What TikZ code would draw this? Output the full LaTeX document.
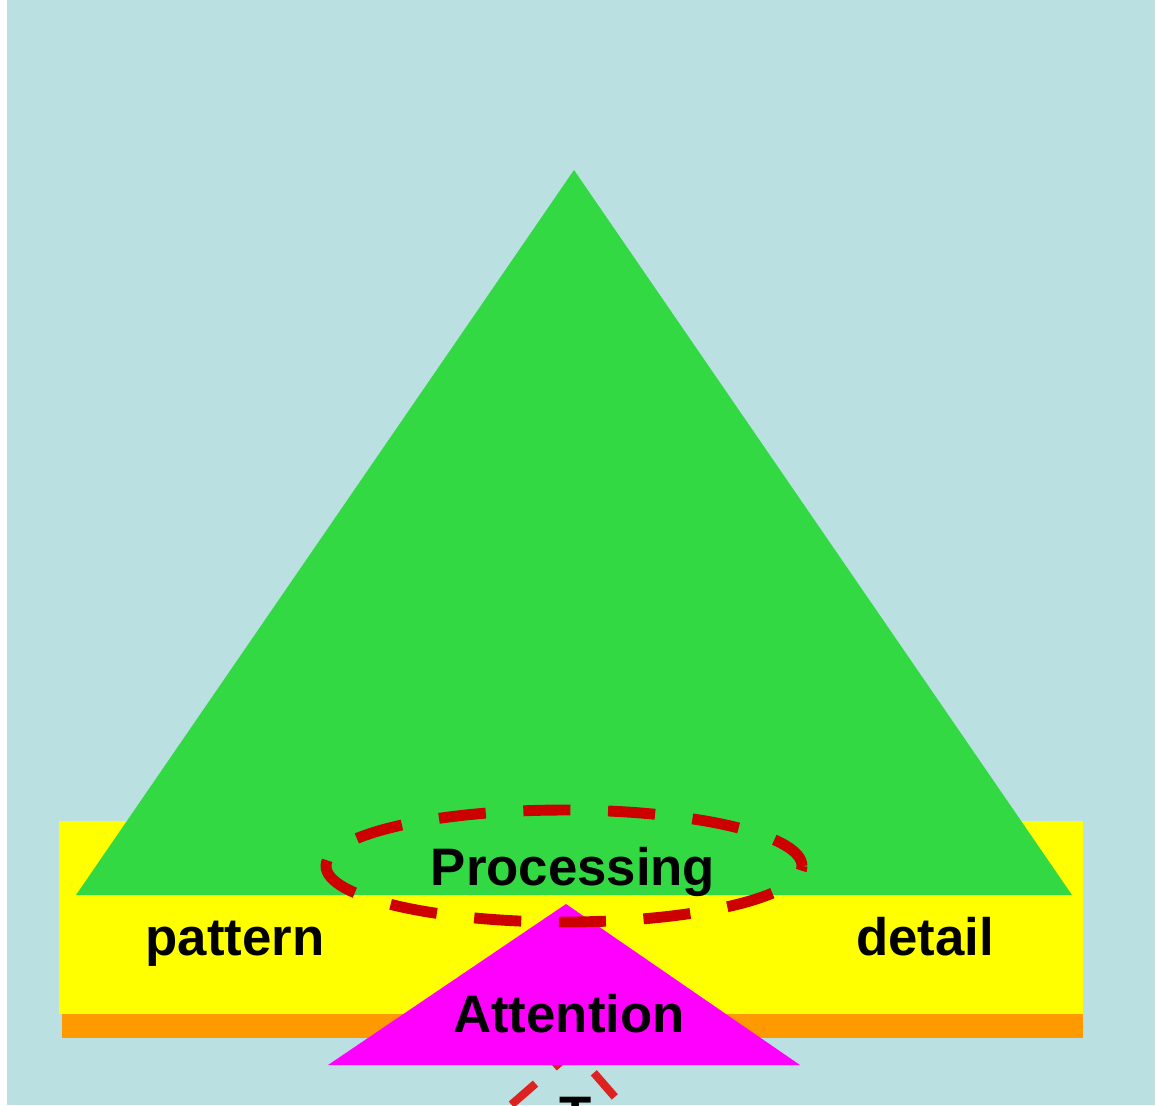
\documentclass[tikz,border=0pt]{standalone}
\usepackage{fontspec}
\setmainfont{Liberation Sans}
\usepackage{tikz}
\usetikzlibrary{positioning, shapes.geometric}
\definecolor{skyblue}{RGB}{186,224,226}
\definecolor{leafgreen}{RGB}{51,217,67}
\definecolor{bandyellow}{RGB}{255,255,0}
\definecolor{barorange}{RGB}{255,153,0}
\definecolor{pointpink}{RGB}{255,0,255}
\definecolor{ringred}{RGB}{204,0,0}
\definecolor{gatered}{RGB}{221,34,34}
\tikzstyle{ring} = [ringred, line width=3.1pt, dash pattern=on 13.4pt off 10.7pt, dash phase=12.1pt]
\tikzstyle{gate} = [gatered, line width=2.3pt, dash pattern=on 9.1pt off 7pt, dash phase=8pt]

\begin{document}
\begin{tikzpicture}[x=0.01cm, y=-0.01cm, every node/.style={font=\fontsize{15}{18}\selectfont\bfseries, inner sep=0pt, anchor=base}]
  \clip (0,0) rectangle (1155,1105);
  % Backdrop
  \fill[white] (0,0) rectangle (7,1105);
  \fill[skyblue] (7,0) rectangle (1155,1105);

  % Base bands
  \fill[bandyellow] (59,821) rectangle (1083,1014);
  \fill[barorange] (62,1014) rectangle (1083,1038);

  % Big triangle
  \fill[leafgreen] (574,170) -- (1072,895) -- (76,895) -- cycle;

  % Dashed diamond, mostly below the edge
  \draw[gate] (633.5,1118.4) -- (574,1050) -- (505.7,1109.6) -- (565.2,1177.9) -- cycle;
  \node (t) at (576,1133) {T};

  % Small triangle
  \fill[pointpink] (566,904) -- (800,1065) -- (328,1065) -- cycle;
  \node (att) at (569,1032) {Attention};

  % Ring in the middle
  \draw[ring] (564,866) ellipse [x radius=238, y radius=56];
  \node (proc) at (573,885) {Processing};

  \node (pat) at (235,955) {pattern};
  \node (det) at (925,955) {detail};
\end{tikzpicture}
\end{document}
